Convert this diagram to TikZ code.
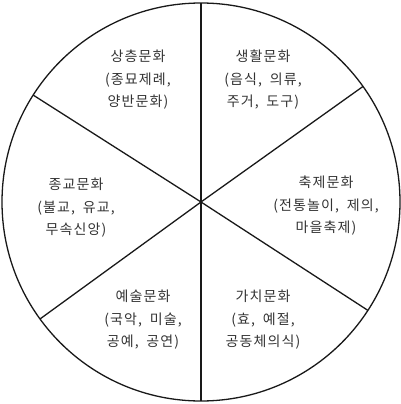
\documentclass[tikz,border=0pt]{standalone}
\usepackage{fontspec}
\setmainfont[LetterSpace=8]{Noto Sans CJK KR}
\newcommand\gap{\hspace{0.55em}}
\begin{document}
\begin{tikzpicture}[x=1pt,y=-1pt,
  lbl/.style={align=center, font=\fontsize{14}{22.5}\selectfont, text=black!80, inner sep=0pt},
  ln/.style={line width=1.3pt, draw=black!90}]
\useasboundingbox (0,0) rectangle (400,404);
\coordinate (c) at (201,202);
\draw[ln] (c) circle [radius=199pt];
\path (c) ++(90:199pt) coordinate (p1)
      (c) ++(270:199pt) coordinate (p2)
      (c) ++(147.5:199pt) coordinate (p3)
      (c) ++(-33:199pt) coordinate (p4)
      (c) ++(35.5:199pt) coordinate (p5)
      (c) ++(216:199pt) coordinate (p6);
\foreach \p in {p1,p2,p3,p4,p5,p6} \draw[ln] (c) -- (\p);
\node[lbl] (t1) at (138,80) {상층문화\\(종묘제례,\\양반문화)};
\node[lbl] (t2) at (263,80) {생활문화\\(음식,\gap 의류,\\주거,\gap 도구)};
\node[lbl] (t3) at (326,206) {축제문화\\(전통놀이,\gap 제의,\\마을축제)};
\node[lbl] (t4) at (76,208) {종교문화\\(불교,\gap 유교,\\무속신앙)};
\node[lbl] (t5) at (143,320) {예술문화\\(국악,\gap 미술,\\공예,\gap 공연)};
\node[lbl] (t6) at (263,320) {가치문화\\(효,\gap 예절,\\공동체의식)};
\end{tikzpicture}
\end{document}
